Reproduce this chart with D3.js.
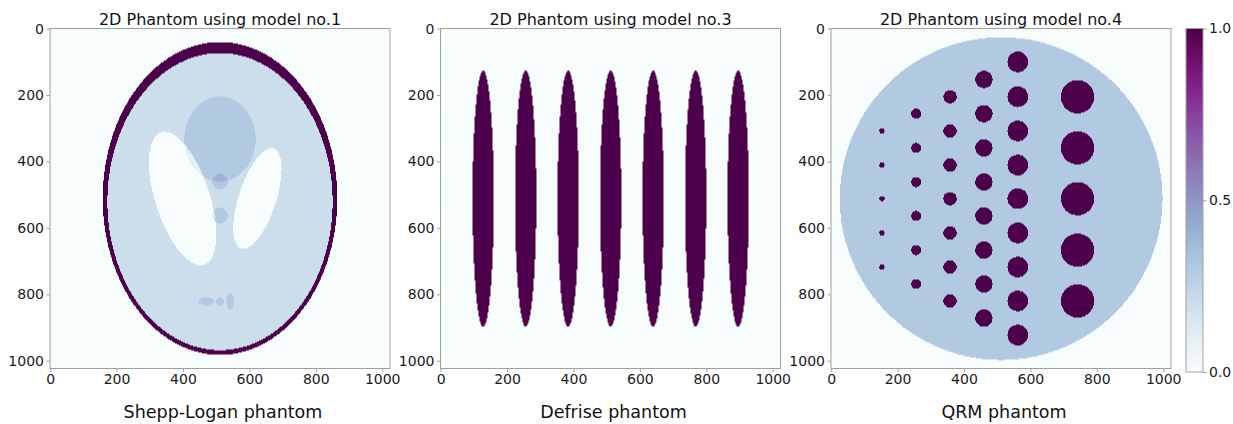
<!DOCTYPE html>
<html>
<head>
<meta charset="utf-8">
<script src="https://cdn.jsdelivr.net/npm/d3@7"></script>
<style>
  body { margin: 0; background: #fff; }
  svg { display: block; font-family: "DejaVu Sans", sans-serif; }
</style>
</head>
<body>
<div id="chart"></div>
<script>
// image size (pixels of the phantom)
const N = 1024;
const tickValues = [0, 200, 400, 600, 800, 1000];
const cbarTicks = [0.0, 0.5, 1.0];

const titles = ["2D Phantom using model no.1", "2D Phantom using model no.3", "2D Phantom using model no.4"];
const captions = ["Shepp-Logan phantom", "Defrise phantom", "QRM phantom"];

// modified Shepp-Logan: value, a, b, x0, y0, angle (normalised coords)
const sheppA = [1, -0.8, -0.2, -0.2, 0.1, 0.1, 0.1, 0.1, 0.1, 0.1];
const sheppAx = [0.69, 0.6624, 0.11, 0.16, 0.21, 0.046, 0.046, 0.046, 0.023, 0.023];
const sheppBx = [0.92, 0.874, 0.31, 0.41, 0.25, 0.046, 0.046, 0.023, 0.023, 0.046];
const sheppX0 = [0, 0, 0.22, -0.22, 0, 0, 0, -0.08, 0, 0.06];
const sheppY0 = [0, -0.0184, 0, 0, 0.35, 0.1, -0.1, -0.605, -0.606, -0.605];
const sheppPhi = [0, 0, -18, 18, 0, 0, 0, 0, 0, 0];

// Defrise: thin vertical ellipses (pixel coords)
const defriseX = [128, 256, 384, 512, 640, 768, 896];
const defriseY = 512, defriseA = 32, defriseB = 386, defriseVal = 1;

// QRM: background disc + columns of dots (pixel coords)
const qrmDisc = { x: 512, y: 512, r: 486, v: 0.3 };
const qrmColX = [153, 256, 358, 460, 562, 742];
const qrmColR = [8, 15, 20, 26, 31, 50];
const qrmColRows = [
  [308, 411, 512, 615, 718],
  [256, 359, 462, 564, 667, 769],
  [205, 308, 411, 512, 615, 718, 820],
  [153, 256, 359, 462, 564, 667, 769, 872],
  [100, 205, 308, 411, 512, 615, 718, 820, 923],
  [205, 359, 512, 667, 820]
];

function sheppValue(x, y) {
  const px = (x - 511.5) / 512, py = -(y - 511.5) / 512;
  let v = 0;
  for (let k = 0; k < sheppA.length; k++) {
    const t = sheppPhi[k] * Math.PI / 180;
    const dx = px - sheppX0[k], dy = py - sheppY0[k];
    const u = dx * Math.cos(t) + dy * Math.sin(t);
    const w = -dx * Math.sin(t) + dy * Math.cos(t);
    if ((u / sheppAx[k]) ** 2 + (w / sheppBx[k]) ** 2 <= 1) v += sheppA[k];
  }
  return v;
}

function defriseValue(x, y) {
  for (const cx of defriseX) {
    if (((x - cx) / defriseA) ** 2 + ((y - defriseY) / defriseB) ** 2 <= 1) return defriseVal;
  }
  return 0;
}

function qrmValue(x, y) {
  let v = 0;
  if ((x - qrmDisc.x) ** 2 + (y - qrmDisc.y) ** 2 <= qrmDisc.r ** 2) v = qrmDisc.v;
  qrmColX.forEach((cx, c) => {
    const r = qrmColR[c];
    qrmColRows[c].forEach(cy => {
      if ((x - cx) ** 2 + (y - cy) ** 2 <= r * r) v = 1;
    });
  });
  return v;
}

const valueFns = [sheppValue, defriseValue, qrmValue];

const width = 1233, height = 424;
const panelLeft = [50, 440.5, 831];
const plotTop = 28.5, size = 340;

const color = d3.scaleSequential(d3.interpolateBuPu).domain([0, 1]).clamp(true);

const svg = d3.select("#chart").append("svg")
  .attr("width", width)
  .attr("height", height);

const textColor = "#1a1a1a";
const spineColor = "#a0a0a0";

panelLeft.forEach((left, p) => {
  const x = d3.scaleLinear().domain([-0.5, N - 0.5]).range([left, left + size]);
  const y = d3.scaleLinear().domain([-0.5, N - 0.5]).range([plotTop, plotTop + size]);

  // raster image
  const canvas = document.createElement("canvas");
  canvas.width = size; canvas.height = size;
  const ctx = canvas.getContext("2d");
  const img = ctx.createImageData(size, size);
  const fn = valueFns[p];
  for (let j = 0; j < size; j++) {
    const dy = y.invert(plotTop + j + 0.5);
    for (let i = 0; i < size; i++) {
      const dx = x.invert(left + i + 0.5);
      const c = d3.rgb(color(fn(dx, dy)));
      const o = (j * size + i) * 4;
      img.data[o] = c.r; img.data[o + 1] = c.g; img.data[o + 2] = c.b; img.data[o + 3] = 255;
    }
  }
  ctx.putImageData(img, 0, 0);

  const g = svg.append("g");
  g.append("image")
    .attr("x", left).attr("y", plotTop)
    .attr("width", size).attr("height", size)
    .attr("href", canvas.toDataURL());

  g.append("rect")
    .attr("x", left).attr("y", plotTop)
    .attr("width", size).attr("height", size)
    .attr("fill", "none")
    .attr("stroke", spineColor)
    .attr("stroke-width", 1);

  const xAxis = g.append("g")
    .attr("transform", `translate(0,${plotTop + size})`)
    .call(d3.axisBottom(x).tickValues(tickValues).tickFormat(d3.format("d")).tickSize(3.5).tickPadding(2.5));
  const yAxis = g.append("g")
    .attr("transform", `translate(${left},0)`)
    .call(d3.axisLeft(y).tickValues(tickValues).tickFormat(d3.format("d")).tickSize(3.5).tickPadding(2.5));
  [xAxis, yAxis].forEach(a => {
    a.select(".domain").remove();
    a.selectAll(".tick line").attr("stroke", spineColor);
    a.selectAll(".tick text")
      .attr("font-size", "14px")
      .attr("font-family", "DejaVu Sans")
      .attr("fill", textColor);
  });

  g.append("text")
    .attr("x", left + size / 2)
    .attr("y", plotTop - 4)
    .attr("text-anchor", "middle")
    .attr("font-size", "16px")
    .attr("fill", "#111")
    .text(titles[p]);

  g.append("text")
    .attr("x", left + size / 2 + 3)
    .attr("y", 417.5)
    .attr("text-anchor", "middle")
    .attr("font-size", "17.5px")
    .attr("fill", "#111")
    .text(captions[p]);
});

// colorbar
const cbX = 1186, cbW = 17, cbTop = 28.5, cbBottom = 372;
const cbScale = d3.scaleLinear().domain([0, 1]).range([cbBottom, cbTop]);
const defs = svg.append("defs");
const grad = defs.append("linearGradient")
  .attr("id", "cbGrad")
  .attr("x1", "0%").attr("y1", "100%")
  .attr("x2", "0%").attr("y2", "0%");
d3.range(0, 1.0001, 0.05).forEach(t => {
  grad.append("stop")
    .attr("offset", `${t * 100}%`)
    .attr("stop-color", color(t));
});
svg.append("rect")
  .attr("x", cbX).attr("y", cbTop)
  .attr("width", cbW).attr("height", cbBottom - cbTop)
  .attr("fill", "url(#cbGrad)")
  .attr("stroke", spineColor)
  .attr("stroke-width", 1);

const cbAxis = svg.append("g")
  .attr("transform", `translate(${cbX + cbW},0)`)
  .call(d3.axisRight(cbScale).tickValues(cbarTicks).tickFormat(d3.format(".1f")).tickSize(3.5).tickPadding(2.5));
cbAxis.select(".domain").remove();
cbAxis.selectAll(".tick line").attr("stroke", spineColor);
cbAxis.selectAll(".tick text")
  .attr("font-size", "14px")
  .attr("font-family", "DejaVu Sans")
  .attr("fill", textColor);
</script>
</body>
</html>
